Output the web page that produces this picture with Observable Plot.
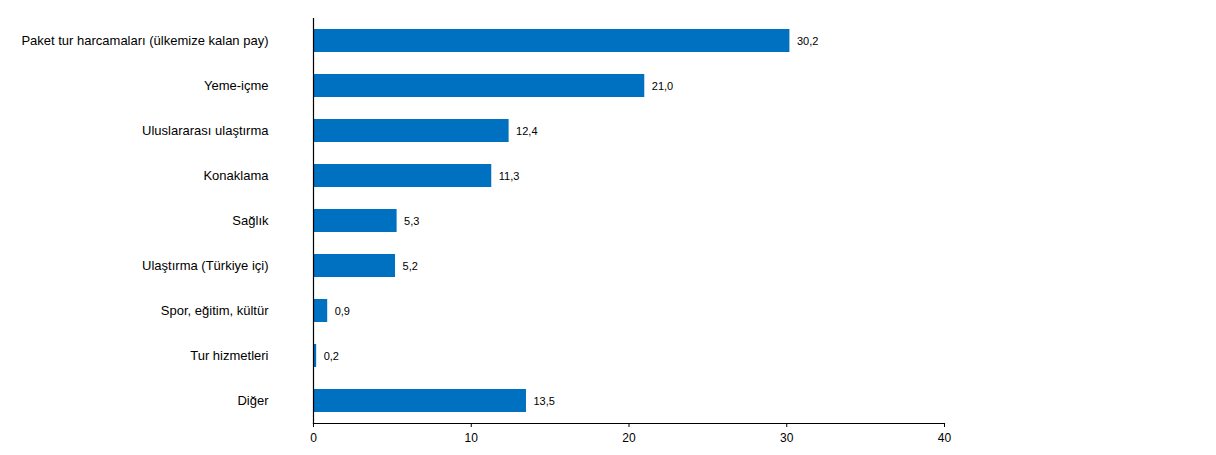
<!DOCTYPE html>
<html>
<head>
<meta charset="utf-8">
<script src="https://cdn.jsdelivr.net/npm/d3@7"></script>
<script src="https://cdn.jsdelivr.net/npm/@observablehq/plot@0.6"></script>
<style>
  html, body { margin: 0; padding: 0; background: #fff; }
  #chart { width: 1216px; height: 455px; }
</style>
</head>
<body>
<div id="chart"></div>
<script>
const categories = [
  "Paket tur harcamaları (ülkemize kalan pay)",
  "Yeme-içme",
  "Uluslararası ulaştırma",
  "Konaklama",
  "Sağlık",
  "Ulaştırma (Türkiye içi)",
  "Spor, eğitim, kültür",
  "Tur hizmetleri",
  "Diğer"
];
const values = [30.2, 21.0, 12.4, 11.3, 5.3, 5.2, 0.9, 0.2, 13.5];
const xTicks = [0, 10, 20, 30, 40];

const data = categories.map((c, i) => ({category: c, value: values[i]}));
const fmt = v => v.toFixed(1).replace(".", ",");

const chart = Plot.plot({
  width: 1216,
  height: 455,
  marginLeft: 313,
  marginRight: 272,
  marginTop: 18,
  marginBottom: 32,
  style: {fontFamily: "Liberation Sans, Arial, sans-serif", fontSize: "12px", color: "#000", background: "#fff"},
  x: {domain: [0, 40], ticks: xTicks, label: null},
  y: {domain: categories, paddingInner: 0.49, paddingOuter: 0.245, label: null},
  marks: [
    Plot.barX(data, {x: "value", y: "category", fill: "#0070C0"}),
    Plot.text(data, {x: "value", y: "category", text: d => fmt(d.value), textAnchor: "start", dx: 7, fontSize: 11, fill: "#000"}),
    Plot.axisX({ticks: xTicks, tickSize: 4, tickPadding: 6, tickFormat: d => String(d), label: null, fontSize: 12, stroke: "#000"}),
    Plot.axisY({tickSize: 0, tickPadding: 45, label: null, fontSize: 13}),
    Plot.frame({anchor: "bottom", stroke: "#000", strokeWidth: 1.2}),
    Plot.frame({anchor: "left", stroke: "#000", strokeWidth: 1.2})
  ]
});
document.getElementById("chart").appendChild(chart);
</script>
</body>
</html>
